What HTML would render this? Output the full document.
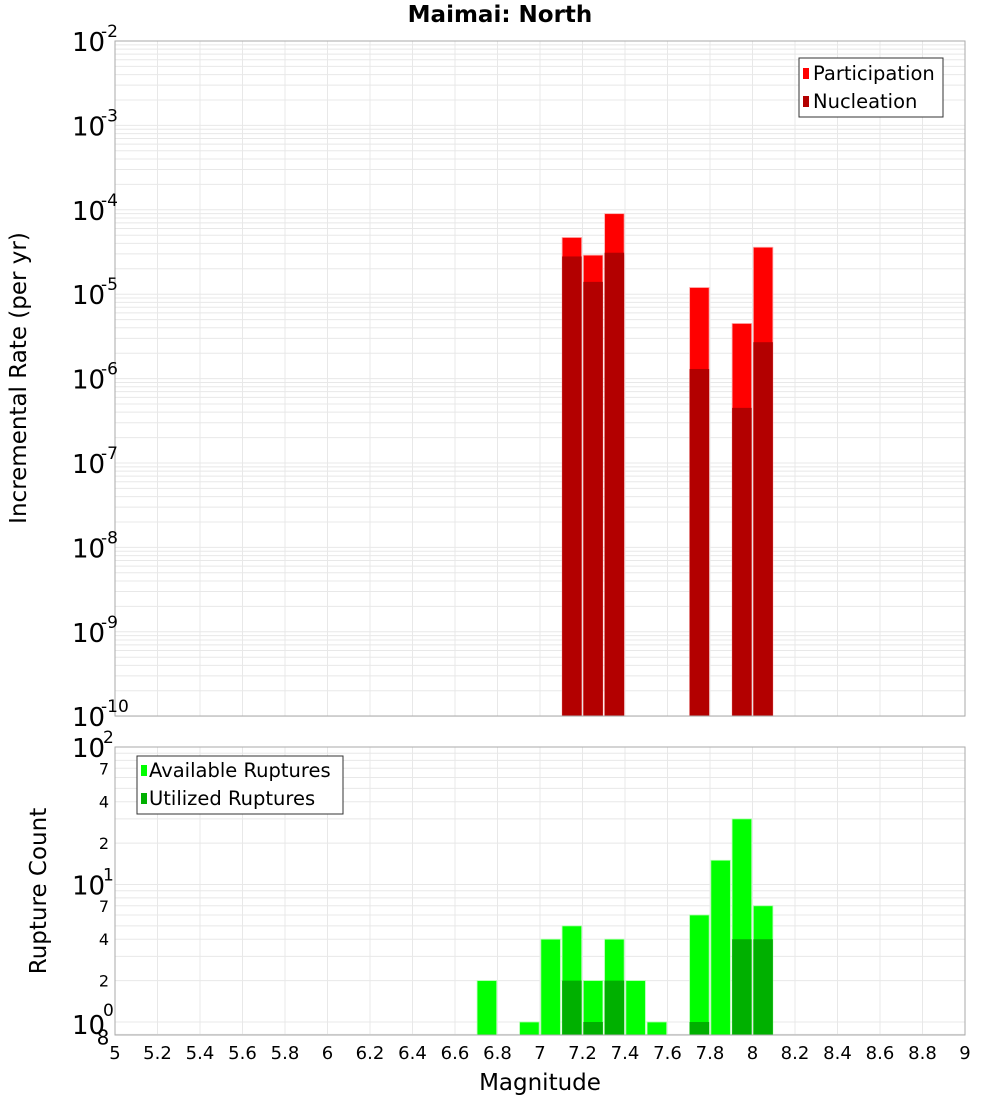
<!DOCTYPE html>
<html><head><meta charset="utf-8"><style>
body{margin:0;background:#fff;}
svg{display:block;font-family:"DejaVu Sans","Liberation Sans",sans-serif;}
</style></head><body>
<svg id="chart" width="1000" height="1100" xmlns="http://www.w3.org/2000/svg">
<text x="500" y="22" text-anchor="middle" font-size="23" font-weight="bold">Maimai: North</text>
<g id="topPlot"></g>
<g id="botPlot"></g>
<text transform="translate(26,378) rotate(-90)" text-anchor="middle" font-size="23">Incremental Rate (per yr)</text>
<text transform="translate(46,891) rotate(-90)" text-anchor="middle" font-size="23">Rupture Count</text>
<text x="540" y="1090" text-anchor="middle" font-size="23">Magnitude</text>
<g>
<rect x="799" y="58" width="144" height="59" fill="#fff" stroke="#333" stroke-width="1"/>
<rect x="803" y="68" width="6" height="11" fill="#ff0000"/>
<text x="813" y="80" font-size="19.5">Participation</text>
<rect x="803" y="96" width="6" height="11" fill="#b30000"/>
<text x="813" y="108" font-size="19.5">Nucleation</text>
</g>
<g>
<rect x="137" y="756" width="206" height="58" fill="#fff" stroke="#333" stroke-width="1"/>
<rect x="141" y="765" width="6" height="11" fill="#00ff00"/>
<text x="149" y="777" font-size="19.5">Available Ruptures</text>
<rect x="141" y="793" width="6" height="11" fill="#00b000"/>
<text x="149" y="805" font-size="19.5">Utilized Ruptures</text>
</g>
</svg>
<script>
const rateMags=[7.15,7.25,7.35,7.75,7.95,8.05];
const participation=[4.7e-5,2.9e-5,9e-5,1.2e-5,4.5e-6,3.6e-5];
const nucleation=[2.8e-5,1.4e-5,3.1e-5,1.3e-6,4.5e-7,2.7e-6];
const countMags=[6.75,6.95,7.05,7.15,7.25,7.35,7.45,7.55,7.75,7.85,7.95,8.05];
const available=[2,1,4,5,2,4,2,1,6,15,30,7];
const utilized=[0,0,0,2,1,2,0,0,1,0,4,4];
const xTicks=[5,5.2,5.4,5.6,5.8,6,6.2,6.4,6.6,6.8,7,7.2,7.4,7.6,7.8,8,8.2,8.4,8.6,8.8,9];
const NS="http://www.w3.org/2000/svg";
const X0=115,X1=965;
const xs=m=>X0+(m-5)/4*(X1-X0);
const yTop=v=>41+84.4*(-2-Math.log10(v));
const TOPB=716;
const yBot=v=>747+137.5*(2-Math.log10(v));
const BOTB=1035;
function mk(p,tag,a){const e=document.createElementNS(NS,tag);for(const k in a)e.setAttribute(k,a[k]);p.appendChild(e);return e;}
const topG=document.getElementById('topPlot'),botG=document.getElementById('botPlot');
for(let d=-10;d<-2;d++){for(let k=1;k<10;k++){const y=yTop(k*Math.pow(10,d));const l=mk(topG,'line',{x1:X0,x2:X1,y1:y,y2:y,stroke:'#e8e8e8','stroke-width':1});

}}
for(let d=0;d<2;d++){for(let k=1;k<10;k++){const y=yBot(k*Math.pow(10,d));if(y>BOTB)continue;const l=mk(botG,'line',{x1:X0,x2:X1,y1:y,y2:y,stroke:'#e8e8e8','stroke-width':1});

}}
{const y=yBot(0.8);const l=mk(botG,'line',{x1:X0,x2:X1,y1:y-1,y2:y-1,stroke:'#e8e8e8'});

}
xTicks.forEach(t=>{const x=xs(t);
const a=mk(topG,'line',{x1:x,x2:x,y1:41,y2:TOPB,stroke:'#e8e8e8'});


const b=mk(botG,'line',{x1:x,x2:x,y1:747,y2:BOTB,stroke:'#e8e8e8'});


const tx=mk(botG,'text',{x:x,y:1059,'text-anchor':'middle','font-size':18});tx.textContent=String(t);

});
const bw=19.5;
rateMags.forEach((m,i)=>{const x=xs(m)-bw/2;
const p=mk(topG,'rect',{x:x,y:yTop(participation[i]),width:bw,height:TOPB-yTop(participation[i]),fill:'#ff0000',stroke:'#ffaaaa','stroke-width':0.8});


const n=mk(topG,'rect',{x:x,y:yTop(nucleation[i]),width:bw,height:TOPB-yTop(nucleation[i]),fill:'#b30000'});

});
countMags.forEach((m,i)=>{const x=xs(m)-bw/2;
const a=mk(botG,'rect',{x:x,y:yBot(available[i]),width:bw,height:BOTB-yBot(available[i]),fill:'#00ff00',stroke:'#aaffaa','stroke-width':0.8});


if(utilized[i]>0){const u=mk(botG,'rect',{x:x,y:yBot(utilized[i]),width:bw,height:BOTB-yBot(utilized[i]),fill:'#00b000'});

}});
const b1=mk(topG,'rect',{x:X0,y:41,width:X1-X0,height:TOPB-41,fill:'none',stroke:'#aaa'});


const b2=mk(botG,'rect',{x:X0,y:747,width:X1-X0,height:BOTB-747,fill:'none',stroke:'#aaa'});


for(let d=-2;d>=-10;d--){const y=yTop(Math.pow(10,d));
const t=mk(topG,'text',{x:72,y:y+10,'font-size':26});t.textContent='10';


const e=mk(topG,'text',{x:101,y:y-4,'font-size':17});e.textContent=String(d);

}
[[2,100],[1,10],[0,1]].forEach(([p,v])=>{const y=yBot(v);
const t=mk(botG,'text',{x:72,y:y+10+(p==0?2:0),'font-size':26});t.textContent='10';


const e=mk(botG,'text',{x:103,y:y-4+(p==0?-2:0),'font-size':17});e.textContent=String(p);

});
[[7,70],[4,40],[2,20],[7,7],[4,4],[2,2],[8,0.8]].forEach(([l,v])=>{const y=yBot(v);
const t=mk(botG,'text',{x:l==8?103:104,y:y+6+(l==8?3:0),'font-size':l==8?20:16,'text-anchor':'middle'});t.textContent=String(l);

});
</script>
</body></html>
